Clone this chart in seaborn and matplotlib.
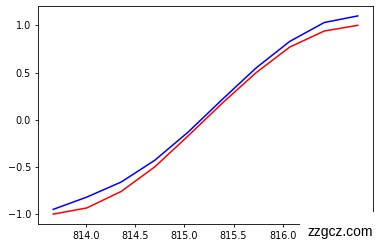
import matplotlib
matplotlib.use("Agg")
import matplotlib.pyplot as plt
import seaborn as sns
import pandas as pd
from matplotlib.patches import Rectangle

x_vals = [813.67, 814.01, 814.36, 814.70, 815.04, 815.39, 815.73, 816.07, 816.42, 816.76]
blue_vals = [-0.95, -0.82, -0.66, -0.43, -0.13, 0.22, 0.55, 0.83, 1.03, 1.10]
red_vals = [-1.0, -0.935, -0.76, -0.50, -0.17, 0.18, 0.50, 0.77, 0.94, 1.0]
watermark = "zzgcz.com"

df = pd.DataFrame({"x": x_vals, "blue": blue_vals, "red": red_vals})

fig = plt.figure(figsize=(3.8, 2.48), dpi=100)
ax = fig.add_axes([38 / 380, (248 - 224) / 248, 335 / 380, 218 / 248])

sns.lineplot(data=df, x="x", y="blue", color="blue", lw=1.1, ax=ax)
sns.lineplot(data=df, x="x", y="red", color="red", lw=1.1, ax=ax)

ax.set_xlabel("")
ax.set_ylabel("")
ax.set_xticks([814.0, 814.5, 815.0, 815.5, 816.0])
ax.set_yticks([-1.0, -0.5, 0.0, 0.5, 1.0])
ax.tick_params(labelsize=6.9, length=2.5, width=0.6, pad=2.5)
for s in ax.spines.values():
    s.set_linewidth(0.6)

# watermark box covering bottom-right corner
fig.patches.append(Rectangle((300 / 380, 0), 80 / 380, 36 / 248,
                             transform=fig.transFigure, facecolor="white",
                             edgecolor="none", zorder=10))
fig.text(340 / 380, (248 - 232) / 248, watermark, ha="center", va="center",
         fontsize=10, family="Liberation Sans", color="black", zorder=11)

fig.savefig("out.png", dpi=100)
